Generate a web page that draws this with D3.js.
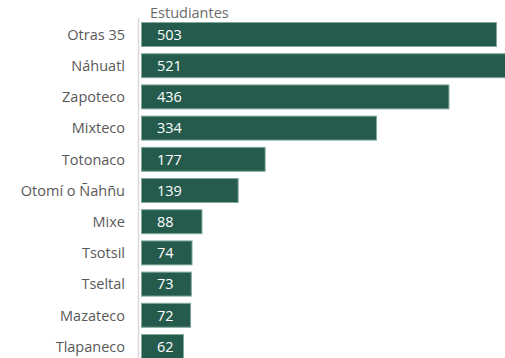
<!DOCTYPE html>
<html><head><meta charset="utf-8">
<script src="https://cdn.jsdelivr.net/npm/d3@7"></script>
<style>body{margin:0;background:#fff}svg{display:block}</style>
</head><body>
<div id="chart"></div>
<script>
const categories = ["Otras 35","Náhuatl","Zapoteco","Mixteco","Totonaco","Otomí o Ñahñu","Mixe","Tsotsil","Tseltal","Mazateco","Tlapaneco"];
const values = [503,521,436,334,177,139,88,74,73,72,62];
const seriesName = "Estudiantes";

const W = 505, H = 358;
const font = "'Open Sans', 'Noto Sans', sans-serif";
const svg = d3.select("#chart").append("svg").attr("width", W).attr("height", H);

const x = d3.scaleLinear().domain([0, 503]).range([139, 496]);
const y = d3.scaleBand().domain(categories).range([18.9, 362.1]).paddingInner(0.2).paddingOuter(0.1);

// axis line
svg.append("line").attr("x1", 138.5).attr("x2", 138.5).attr("y1", 18).attr("y2", H)
  .attr("stroke", "#d9d9d9").attr("stroke-width", 1.5);

// title
svg.append("text").attr("x", 150).attr("y", 18).text(seriesName)
  .attr("font-family", font).attr("font-size", 14.5).attr("fill", "#6b6b6b");

const data = categories.map((c, i) => ({c, v: values[i]}));

svg.selectAll("rect.bar").data(data).enter().append("rect")
  .attr("class", "bar")
  .attr("x", x(0) + 2.5)
  .attr("y", d => y(d.c) + 0.5)
  .attr("width", d => x(d.v) - x(0) - 2)
  .attr("height", y.bandwidth() - 1)
  .attr("fill", "#245b4d")
  .attr("stroke", "#82a89c")
  .attr("stroke-width", 1);

svg.selectAll("text.cat").data(data).enter().append("text")
  .attr("class", "cat")
  .attr("x", 125)
  .attr("y", d => y(d.c) + y.bandwidth() / 2)
  .attr("dy", "0.36em")
  .attr("text-anchor", "end")
  .attr("font-family", font).attr("font-size", 14.5).attr("fill", "#595959")
  .text(d => d.c);

svg.selectAll("text.val").data(data).enter().append("text")
  .attr("class", "val")
  .attr("x", 157)
  .attr("y", d => y(d.c) + y.bandwidth() / 2)
  .attr("dy", "0.36em")
  .attr("font-family", font).attr("font-size", 14.5).attr("fill", "#ffffff")
  .text(d => d.v);
</script>
</body></html>
